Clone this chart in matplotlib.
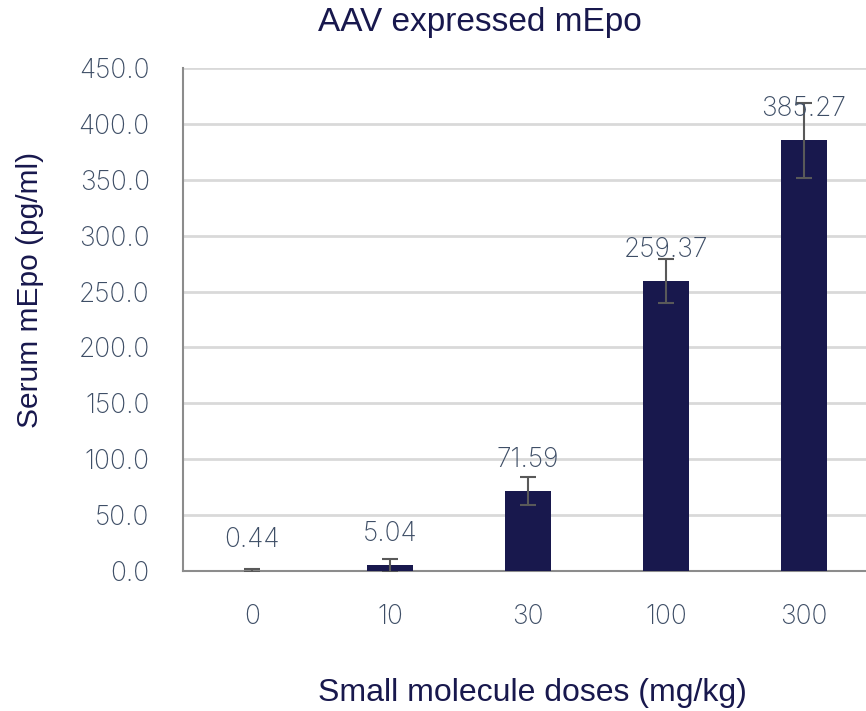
import matplotlib
matplotlib.use("Agg")
import matplotlib.pyplot as plt
import numpy as np

doses = ["0", "10", "30", "100", "300"]
means = [0.44, 5.04, 71.59, 259.37, 385.27]
errs = [1.0, 5.7, 12.5, 20.0, 33.5]
yticks = [0, 50, 100, 150, 200, 250, 300, 350, 400, 450]

NAVY = "#18184d"
SLATE = "#3e4e66"

fig = plt.figure(figsize=(8.66, 7.11), dpi=100)
# axes slightly wider than the figure: the original is clipped on the right
ax = fig.add_axes([183 / 866, (711 - 571) / 711, (873 - 183) / 866, (571 - 68) / 711])

x = np.arange(len(doses))
ax.bar(x, means, width=0.33, color=NAVY, zorder=3)
ax.errorbar(x, means, yerr=errs, fmt="none", ecolor="#595959", elinewidth=1.5,
            capsize=6, capthick=1.5, zorder=4)
for xi, m in zip(x, means):
    ax.annotate(f"{m:.2f}", (xi, m), xytext=(0, 31), textcoords="offset pixels",
                ha="center", va="center", fontsize=19, color=SLATE, family="Inter",
                fontweight="light", zorder=5)

ax.set_xlim(-0.5, len(doses) - 0.5)
ax.set_ylim(0, 450)
ax.set_yticks(yticks)
ax.set_yticklabels([f"{v:.1f}" for v in yticks])
ax.set_xticks(x)
ax.set_xticklabels(doses)
ax.tick_params(axis="both", length=0, labelsize=19, labelcolor=SLATE)
ax.tick_params(axis="x", pad=24)
ax.tick_params(axis="y", pad=24)
for lab in ax.get_xticklabels() + ax.get_yticklabels():
    lab.set_family("Inter")
    lab.set_fontweight("light")
ax.grid(axis="y", color="#d9d9d9", linewidth=2, zorder=0)
ax.set_axisbelow(True)
for s in ["top", "right"]:
    ax.spines[s].set_visible(False)
for s in ["left", "bottom"]:
    ax.spines[s].set_color("#8c8c8c")
    ax.spines[s].set_linewidth(1.5)

fig.text(480 / 866, 1 - 22 / 711, "AAV expressed mEpo", ha="center", va="center",
         fontsize=24, color=NAVY, family="Liberation Sans")
fig.text(532 / 866, 1 - 693 / 711, "Small molecule doses (mg/kg)", ha="center", va="center",
         fontsize=23, color=NAVY, family="Liberation Sans")
fig.text(30 / 866, 1 - 290 / 711, "Serum mEpo (pg/ml)", ha="center", va="center",
         rotation=90, fontsize=21.5, color=NAVY, family="Liberation Sans")

fig.savefig("out.png", dpi=100)
